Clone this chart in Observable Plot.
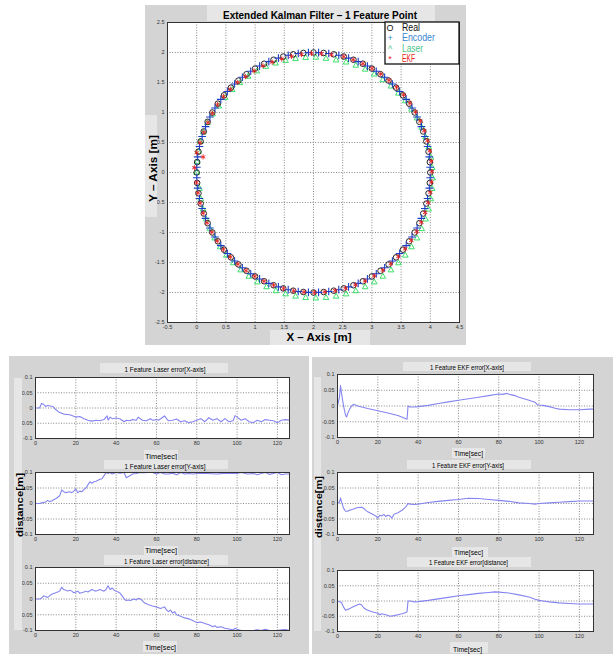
<!DOCTYPE html>
<html><head><meta charset="utf-8">
<script src="https://cdn.jsdelivr.net/npm/d3@7"></script>
<script src="https://cdn.jsdelivr.net/npm/@observablehq/plot@0.6"></script>
<style>
body{margin:0;background:#fff;}
#root{position:relative;width:615px;height:654px;overflow:hidden;font-family:"Liberation Sans",Arial,sans-serif;}
.panel{position:absolute;background:#d4d4d4;}
</style></head><body><div id="root"></div>
<script>
// ---------- DATA: top chart (x, y in metres) ----------
const realPts = [[0,0],[0.008,0.174],[0.030,0.347],[0.068,0.518],[0.121,0.684],[0.187,0.845],[0.268,1.0],[0.362,1.147],[0.468,1.286],[0.586,1.414],[0.714,1.532],[0.853,1.638],[1.0,1.732],[1.155,1.813],[1.316,1.879],[1.482,1.932],[1.653,1.970],[1.826,1.992],[2,2],[2.174,1.992],[2.347,1.970],[2.518,1.932],[2.684,1.879],[2.845,1.813],[3.0,1.732],[3.147,1.638],[3.286,1.532],[3.414,1.414],[3.532,1.286],[3.638,1.147],[3.732,1.0],[3.813,0.845],[3.879,0.684],[3.932,0.518],[3.970,0.347],[3.992,0.174],[4,0],[3.992,-0.174],[3.970,-0.347],[3.932,-0.518],[3.879,-0.684],[3.813,-0.845],[3.732,-1.0],[3.638,-1.147],[3.532,-1.286],[3.414,-1.414],[3.286,-1.532],[3.147,-1.638],[3.0,-1.732],[2.845,-1.813],[2.684,-1.879],[2.518,-1.932],[2.347,-1.970],[2.174,-1.992],[2,-2],[1.826,-1.992],[1.653,-1.970],[1.482,-1.932],[1.316,-1.879],[1.155,-1.813],[1.0,-1.732],[0.853,-1.638],[0.714,-1.532],[0.586,-1.414],[0.468,-1.286],[0.362,-1.147],[0.268,-1.0],[0.187,-0.845],[0.121,-0.684],[0.068,-0.518],[0.030,-0.347],[0.008,-0.174]];
const encoderPts = [[0.002,0.087],[0.017,0.261],[0.047,0.433],[0.093,0.601],[0.152,0.765],[0.226,0.924],[0.313,1.075],[0.413,1.218],[0.525,1.351],[0.649,1.475],[0.782,1.587],[0.925,1.687],[1.077,1.774],[1.235,1.848],[1.399,1.907],[1.567,1.953],[1.739,1.983],[1.913,1.998],[2.087,1.998],[2.261,1.983],[2.433,1.953],[2.601,1.907],[2.765,1.848],[2.923,1.774],[3.075,1.687],[3.218,1.587],[3.351,1.475],[3.475,1.351],[3.587,1.218],[3.687,1.075],[3.774,0.924],[3.848,0.765],[3.907,0.601],[3.953,0.433],[3.983,0.261],[3.998,0.087],[3.998,-0.087],[3.983,-0.261],[3.953,-0.433],[3.907,-0.601],[3.848,-0.765],[3.774,-0.924],[3.687,-1.075],[3.587,-1.218],[3.475,-1.351],[3.351,-1.475],[3.218,-1.587],[3.075,-1.687],[2.923,-1.774],[2.765,-1.848],[2.601,-1.907],[2.433,-1.953],[2.261,-1.983],[2.087,-1.998],[1.913,-1.998],[1.739,-1.983],[1.567,-1.953],[1.399,-1.907],[1.235,-1.848],[1.077,-1.774],[0.925,-1.687],[0.782,-1.587],[0.649,-1.475],[0.525,-1.351],[0.413,-1.218],[0.313,-1.075],[0.226,-0.924],[0.152,-0.765],[0.093,-0.601],[0.047,-0.433],[0.017,-0.261],[0.002,-0.087]];
const laserPts = [[0,0],[0.008,0.174],[0.030,0.347],[0.058,0.513],[0.113,0.669],[0.184,0.825],[0.273,0.97],[0.377,1.102],[0.488,1.246],[0.608,1.376],[0.739,1.492],[0.881,1.598],[1.03,1.687],[1.185,1.763],[1.351,1.819],[1.522,1.862],[1.693,1.895],[1.866,1.912],[2.04,1.915],[2.214,1.897],[2.387,1.87],[2.558,1.835],[2.724,1.782],[2.885,1.716],[3.04,1.635],[3.187,1.541],[3.326,1.435],[3.454,1.317],[3.572,1.189],[3.678,1.05],[3.772,0.903],[3.853,0.748],[3.919,0.587],[3.972,0.421],[4.01,0.25],[4.032,0.077],[4.04,-0.097],[4.032,-0.271],[4.01,-0.444],[3.972,-0.615],[3.919,-0.781],[3.853,-0.942],[3.772,-1.097],[3.678,-1.244],[3.572,-1.383],[3.454,-1.511],[3.326,-1.629],[3.187,-1.735],[3.04,-1.829],[2.885,-1.91],[2.724,-1.976],[2.558,-2.029],[2.387,-2.067],[2.214,-2.089],[2.04,-2.097],[1.866,-2.089],[1.693,-2.067],[1.522,-2.029],[1.356,-1.976],[1.195,-1.91],[1.04,-1.829],[0.893,-1.735],[0.754,-1.629],[0.626,-1.511],[0.508,-1.383],[0.402,-1.244],[0.308,-1.097],[0.227,-0.942],[0.161,-0.781],[0.108,-0.615],[0.07,-0.444],[0.048,-0.271]];
const ekfPts = [[-0.04,0.08],[0.11,0.26],[0.0,0.33],[0.058,0.498],[0.121,0.669],[0.192,0.833],[0.268,0.988],[0.357,1.132],[0.46,1.266],[0.576,1.389],[0.701,1.502],[0.837,1.598],[0.982,1.692],[1.135,1.778],[1.293,1.839],[1.456,1.892],[1.623,1.935],[1.794,1.967],[1.965,1.985],[2.136,1.982],[2.307,1.965],[2.518,1.932],[2.682,1.879],[2.845,1.813],[3.002,1.734],[3.151,1.642],[3.292,1.538],[3.422,1.421],[3.542,1.294],[3.65,1.156],[3.746,1.01],[3.829,0.856],[3.897,0.696],[3.952,0.531],[3.992,0.361],[4.016,0.189],[4.026,0.016],[4.02,-0.157],[4.0,-0.33],[3.963,-0.502],[3.911,-0.668],[3.846,-0.83],[3.767,-0.985],[3.674,-1.133],[3.569,-1.273],[3.452,-1.402],[3.325,-1.522],[3.187,-1.629],[3.04,-1.724],[2.883,-1.807],[2.718,-1.874],[2.548,-1.928],[2.372,-1.967],[2.194,-1.99],[2.016,-2.0],[1.838,-1.994],[1.661,-1.973],[1.486,-1.934],[1.316,-1.879],[1.152,-1.812],[0.995,-1.73],[0.846,-1.635],[0.705,-1.528],[0.576,-1.409],[0.458,-1.281],[0.352,-1.141],[0.258,-0.994],[0.177,-0.838],[0.111,-0.677],[0.058,-0.51],[0.02,-0.339],[-0.002,-0.166]];
const topXTicks = [-0.5,0,0.5,1,1.5,2,2.5,3,3.5,4,4.5];
const topYTicks = [-2.5,-2,-1.5,-1,-0.5,0,0.5,1,1.5,2,2.5];

// ---------- DATA: error plots ([time sec, error m]) ----------
const laserErrX = [[0,0],[2,0],[3,0.015],[4,0.012],[5,0.005],[6,0.008],[8,0.006],[9,0.003],[10,-0.005],[12,-0.015],[14,-0.02],[17,-0.022],[19,-0.027],[20,-0.03],[22,-0.028],[24,-0.035],[26,-0.04],[28,-0.043],[30,-0.04],[32,-0.042],[34,-0.038],[35.5,-0.026],[36,-0.04],[37,-0.03],[38,-0.035],[40,-0.033],[42,-0.036],[44,-0.045],[45,-0.04],[47,-0.042],[48,-0.038],[50,-0.04],[51,-0.03],[53,-0.04],[55,-0.042],[57,-0.035],[58,-0.04],[60,-0.038],[61,-0.04],[64,-0.026],[65,-0.035],[66,-0.042],[68,-0.04],[70,-0.036],[72,-0.045],[74,-0.042],[76,-0.048],[78,-0.045],[80,-0.04],[82,-0.035],[84,-0.045],[86,-0.032],[88,-0.04],[90,-0.035],[92,-0.045],[94,-0.035],[96,-0.045],[98,-0.042],[99,-0.025],[100,-0.03],[102,-0.04],[104,-0.035],[106,-0.045],[108,-0.048],[110,-0.04],[112,-0.045],[114,-0.038],[116,-0.04],[118,-0.042],[120,-0.048],[122,-0.04],[124,-0.038],[126,-0.04]];
const laserErrY = [[0,0],[2,0],[3,0.002],[5,0.005],[6,0.01],[7,0.006],[8,0.008],[9,0.012],[10,0.015],[11,0.02],[12,0.025],[13,0.044],[14,0.038],[15,0.035],[17,0.038],[18,0.035],[19,0.04],[20,0.047],[21,0.035],[22,0.04],[23,0.038],[24,0.045],[25,0.05],[26,0.06],[27,0.07],[28,0.065],[29,0.07],[30,0.072],[31,0.075],[32,0.078],[33,0.08],[34,0.09],[35,0.1],[36,0.097],[37,0.1],[38,0.095],[40,0.1],[42,0.098],[44,0.1],[45,0.083],[47,0.09],[48,0.095],[50,0.097],[52,0.1],[54,0.099],[56,0.1],[58,0.1],[60,0.095],[62,0.1],[64,0.095],[66,0.095],[68,0.098],[70,0.093],[72,0.1],[74,0.095],[76,0.097],[78,0.095],[80,0.097],[85,0.097],[90,0.095],[95,0.098],[100,0.097],[102,0.1],[105,0.095],[108,0.097],[110,0.093],[112,0.097],[114,0.1],[116,0.094],[118,0.097],[120,0.1],[122,0.093],[124,0.095],[126,0.095]];
const laserErrD = [[0,0],[2,0],[3,0.003],[4,0.01],[5,0.008],[6,0.005],[7,0.01],[8,0.015],[10,0.02],[11,0.022],[12,0.025],[13,0.037],[14,0.03],[15,0.028],[16,0.025],[17,0.028],[18,0.025],[19,0.02],[20,0.022],[21,0.025],[22,0.018],[24,0.022],[25,0.025],[26,0.022],[28,0.03],[29,0.027],[30,0.025],[31,0.028],[32,0.03],[33,0.027],[34,0.025],[35,0.03],[36,0.042],[37,0.03],[38,0.035],[39,0.028],[40,0.025],[41,0.022],[42,0.018],[43,0.01],[44,0],[45,-0.005],[46,-0.003],[47,-0.005],[48,-0.002],[49,0],[50,-0.003],[51,0.002],[52,0],[53,-0.005],[54,-0.012],[55,-0.015],[56,-0.018],[57,-0.02],[58,-0.022],[60,-0.025],[62,-0.03],[63,-0.028],[64,-0.025],[65,-0.035],[66,-0.04],[67,-0.035],[68,-0.045],[69,-0.04],[70,-0.05],[72,-0.055],[74,-0.06],[76,-0.063],[78,-0.068],[80,-0.075],[82,-0.073],[84,-0.078],[86,-0.082],[88,-0.088],[89,-0.085],[90,-0.09],[92,-0.088],[94,-0.093],[96,-0.095],[98,-0.098],[99,-0.093],[100,-0.096],[102,-0.1],[104,-0.1],[106,-0.102],[108,-0.1],[110,-0.098],[112,-0.1],[114,-0.096],[116,-0.1],[118,-0.102],[120,-0.1],[122,-0.098],[124,-0.097],[126,-0.1]];
const ekfErrX = [[0,0],[1,0.03],[1.5,0.065],[2,0.04],[3,0],[4,-0.03],[4.5,-0.035],[5,-0.025],[6,-0.01],[7,0],[8,0.005],[9,0.003],[10,0],[12,-0.003],[15,-0.008],[20,-0.015],[25,-0.022],[30,-0.03],[33,-0.038],[34.5,-0.042],[35,0],[36,-0.003],[38,-0.003],[40,-0.002],[45,0.002],[50,0.008],[55,0.013],[60,0.018],[65,0.023],[70,0.028],[75,0.033],[80,0.038],[82,0.037],[84,0.04],[86,0.036],[88,0.033],[90,0.028],[95,0.018],[98,0.012],[99,0.005],[100,0.003],[102,0.002],[105,-0.002],[108,-0.007],[110,-0.01],[115,-0.012],[120,-0.012],[125,-0.01],[127,-0.01]];
const ekfErrY = [[0,0],[1,0.005],[1.5,0.018],[2,0.005],[3,-0.015],[4,-0.025],[5,-0.025],[6,-0.022],[8,-0.018],[10,-0.013],[12,-0.012],[13,-0.015],[14,-0.022],[15,-0.027],[17,-0.033],[19,-0.04],[20,-0.047],[21,-0.038],[22,-0.04],[23,-0.035],[24,-0.042],[25,-0.038],[26,-0.04],[27,-0.047],[28,-0.035],[30,-0.03],[32,-0.022],[34,-0.01],[35,0],[36,-0.002],[38,-0.003],[40,-0.002],[42,0],[45,0.003],[50,0.007],[55,0.01],[60,0.013],[65,0.017],[70,0.016],[75,0.013],[80,0.01],[85,0.007],[90,0.002],[95,0],[98,-0.002],[100,0],[105,0.002],[110,0.004],[115,0.006],[120,0.008],[127,0.008]];
const ekfErrD = [[0,0],[2,-0.005],[3,-0.02],[4,-0.03],[5,-0.028],[6,-0.025],[8,-0.018],[10,-0.012],[11,-0.01],[12,-0.013],[13,-0.022],[14,-0.027],[16,-0.033],[18,-0.037],[20,-0.04],[21,-0.045],[22,-0.042],[24,-0.045],[26,-0.05],[28,-0.048],[30,-0.045],[32,-0.042],[34,-0.038],[34.5,-0.035],[35,0],[36,0],[38,-0.003],[40,-0.002],[45,0.002],[50,0.007],[55,0.012],[60,0.017],[65,0.021],[70,0.025],[75,0.028],[78,0.03],[80,0.029],[85,0.026],[90,0.02],[95,0.013],[98,0.006],[100,0.002],[102,0],[105,-0.003],[110,-0.006],[115,-0.008],[120,-0.01],[127,-0.01]];
const errTimeTicks = [0,20,40,60,80,100,120];
const errValueTicks = [-0.1,-0.05,0,0.05,0.1];

// ---------- TEXT ----------
const mainTitle = "Extended Kalman Filter \u2013 1 Feature Point";
const xAxisLabel = "X \u2013 Axis [m]";
const yAxisLabel = "Y \u2013 Axis [m]";
const legendNames = ["Real","Encoder","Laser","EKF"];
const legendGlyphs = ["O","+","^","*"];
const laserTitles = ["1 Feature Laser error[X-axis]","1 Feature Laser error[Y-axis]","1 Feature Laser error[distance]"];
const ekfTitles = ["1 Feature EKF error[X-axis]","1 Feature EKF error[Y-axis]","1 Feature EKF error[distance]"];
const timeLabel = "Time[sec]";
const distLabel = "distance[m]";

// ---------- LAYOUT ----------
const root = document.getElementById("root");
function panel(l,t,w,h){const d=document.createElement("div");d.className="panel";Object.assign(d.style,{left:l+"px",top:t+"px",width:w+"px",height:h+"px"});root.appendChild(d);}
panel(145,5,321,340);
panel(9,356,300,298);
panel(312,357,301,297);

const fmt = d => String(d);
const tickFont = "'Liberation Sans Narrow','Liberation Sans',Arial,sans-serif";
const gridStyle = {stroke:"#6a6a6a", strokeOpacity:1, strokeWidth:0.8, strokeDasharray:"1,1.6"};
const COLORS = {real:"#111111", encoder:"#1d3fc8", laser:"#3ce06a", ekf:"#e82020", err:"#8585f0"};

// Top chart
{
  const ml=27, mr=11, mt=22, mb=18;
  const p = Plot.plot({
    width: ml+292+mr, height: mt+300+mb,
    marginLeft: ml, marginRight: mr, marginTop: mt, marginBottom: mb,
    x: {domain:[-0.5,4.5]}, y: {domain:[-2.5,2.5]},
    style: {background:"transparent", fontFamily: tickFont, fontSize:"5.5px", color:"#333"},
    marks: [
      Plot.frame({fill:"white"}),
      Plot.gridX(topXTicks, gridStyle),
      Plot.gridY(topYTicks, gridStyle),
      Plot.axisX(topXTicks, {tickSize:0, tickPadding:3, label:null, tickFormat:fmt}),
      Plot.axisY(topYTicks, {tickSize:0, tickPadding:3, label:null, tickFormat:fmt}),
      Plot.dot(laserPts, {x:d=>d[0], y:d=>d[1], symbol:"triangle", r:2.1, fill:"none", stroke:COLORS.laser, strokeWidth:1}),
      Plot.dot(realPts, {x:d=>d[0], y:d=>d[1], symbol:"circle", r:2.8, fill:"none", stroke:COLORS.real, strokeWidth:0.9}),
      Plot.dot(encoderPts, {x:d=>d[0], y:d=>d[1], symbol:"plus", r:2.6, stroke:COLORS.encoder, strokeWidth:1.1}),
      Plot.dot(ekfPts, {x:d=>d[0], y:d=>d[1], symbol:"asterisk", r:2.4, stroke:COLORS.ekf, strokeWidth:0.9}),
      Plot.frame({stroke:"#333"})
    ]
  });
  Object.assign(p.style,{position:"absolute", left:(167-ml)+"px", top:(22-mt)+"px"});
  root.appendChild(p);
}

function errPlot(data, left, top, w, h, xmax){
  const ml=26, mr=6, mt=4, mb=14;
  const p = Plot.plot({
    width: ml+w+mr, height: mt+h+mb,
    marginLeft: ml, marginRight: mr, marginTop: mt, marginBottom: mb,
    x: {domain:[0,xmax]}, y: {domain:[-0.1,0.1]},
    style: {background:"transparent", fontFamily: tickFont, fontSize:"5.5px", color:"#333"},
    marks: [
      Plot.frame({fill:"white"}),
      Plot.gridX(errTimeTicks, gridStyle),
      Plot.gridY(errValueTicks, gridStyle),
      Plot.axisX(errTimeTicks, {tickSize:0, tickPadding:3, label:null, tickFormat:fmt}),
      Plot.axisY(errValueTicks, {tickSize:0, tickPadding:3, label:null, tickFormat:fmt}),
      Plot.line(data, {x:d=>d[0], y:d=>d[1], stroke:COLORS.err, strokeWidth:1.1, clip:true}),
      Plot.frame({stroke:"#333"})
    ]
  });
  Object.assign(p.style,{position:"absolute", left:(left-ml)+"px", top:(top-mt)+"px"});
  root.appendChild(p);
}
errPlot(laserErrX, 35, 377, 254, 61, 126);
errPlot(laserErrY, 35, 472, 254, 62, 126);
errPlot(laserErrD, 35, 567, 254, 63, 126);
errPlot(ekfErrX, 337, 374, 256, 63, 127);
errPlot(ekfErrY, 337, 472, 256, 62, 127);
errPlot(ekfErrD, 337, 570, 256, 61, 127);

// ---------- Overlay: text boxes, labels, legend ----------
const NS = "http://www.w3.org/2000/svg";
const ov = document.createElementNS(NS,"svg");
ov.setAttribute("width",615); ov.setAttribute("height",654);
Object.assign(ov.style,{position:"absolute",left:"0px",top:"0px",pointerEvents:"none"});
root.appendChild(ov);
function el(tag, attrs, text){const e=document.createElementNS(NS,tag);for(const k in attrs)e.setAttribute(k,attrs[k]);if(text!=null)e.textContent=text;ov.appendChild(e);return e;}
function box(x,y,w,h){el("rect",{x,y,width:w,height:h,fill:"#e6e6e6"});}
function label(x,y,s,o={}){
  const a={x:0,y:0,"text-anchor":o.anchor||"middle","font-size":o.size||8,"font-weight":o.weight||"normal",fill:o.fill||"#000",
    "font-family":o.family||"'Liberation Sans Narrow','Liberation Sans',Arial,sans-serif",
    transform:`translate(${x},${y})`+(o.rot?` rotate(${o.rot})`:"")};
  if(o.len){a.textLength=o.len;a.lengthAdjust="spacingAndGlyphs";}
  return el("text",a,s);
}
// top chart
box(207,5,228,16);
label(320,19,mainTitle,{size:10.5,weight:"bold",len:194,family:"'Liberation Sans',Arial,sans-serif"});
box(145,115,12,102);
label(156.5,168.5,yAxisLabel,{size:11,weight:"bold",len:67,rot:-90,family:"'Liberation Sans',Arial,sans-serif"});
box(270,330,100,15);
label(319,341,xAxisLabel,{size:11,weight:"bold",len:65,family:"'Liberation Sans',Arial,sans-serif"});
// legend
el("rect",{x:385,y:22,width:74,height:42,fill:"white",stroke:"#111","stroke-width":1.3});
const legColors=[COLORS.real,"#3a86d4","#4cc48a",COLORS.ekf];
const legLen=[18,33,21,13];
const legBase=[30.5,41,51.5,62];
legendNames.forEach((n,i)=>{
  label(390,legBase[i],legendGlyphs[i],{size:9,fill:legColors[i],family:"'Liberation Sans',Arial,sans-serif"});
  label(402,legBase[i],n,{size:10,anchor:"start",fill:legColors[i],len:legLen[i],family:"'Liberation Sans',Arial,sans-serif"});
});
// lower left
box(14,378,8,252);
label(23,505,distLabel,{size:9.5,weight:"bold",len:64,rot:-90,family:"'Liberation Sans',Arial,sans-serif"});
box(100,363,128,10); label(165,372,laserTitles[0],{size:8,len:81});
box(144,450,34,10); label(161,458.5,timeLabel,{size:8,len:32});
box(104,460,124,9); label(165,468.5,laserTitles[1],{size:8,len:81});
box(144,546,34,9); label(161,553,timeLabel,{size:8,len:32});
box(104,555,124,10); label(166.5,564,laserTitles[2],{size:8,len:85});
box(143,641,34,11); label(160.5,649.5,timeLabel,{size:8,len:31});
// lower right
box(314,377,7,254);
label(322,507,distLabel,{size:9.5,weight:"bold",len:62,rot:-90,family:"'Liberation Sans',Arial,sans-serif"});
box(403,362,128,9); label(467,370,ekfTitles[0],{size:8,len:74});
box(452,448,33,10); label(468.5,456,timeLabel,{size:8,len:29});
box(407,460,124,9); label(468,467.5,ekfTitles[1],{size:8,len:72});
box(452,547,36,10); label(468.5,555,timeLabel,{size:8,len:29});
box(407,557,124,10); label(468.5,565,ekfTitles[2],{size:8,len:79});
box(450,642,38,11); label(467.5,652,timeLabel,{size:8,len:29});
</script></body></html>
